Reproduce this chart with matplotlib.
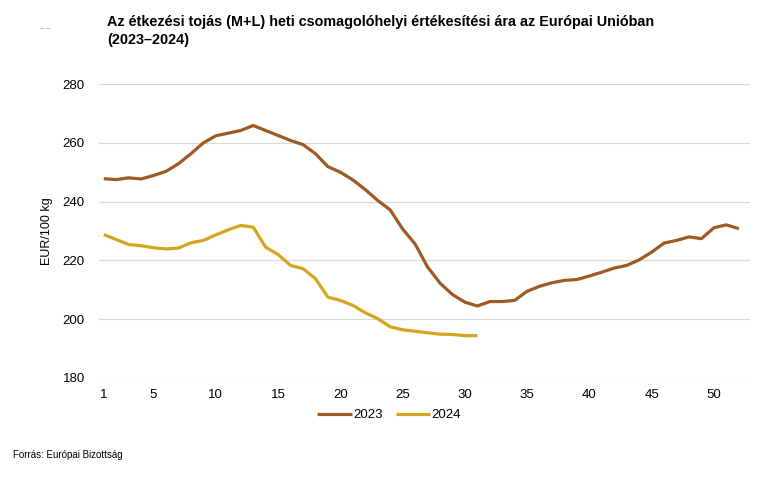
import matplotlib
matplotlib.use("Agg")
import matplotlib.pyplot as plt

plt.rcParams['font.family'] = ['Liberation Sans', 'DejaVu Sans']

# heti árak, EUR/100 kg (leolvasva az ábráról)
weeks_2023 = list(range(1, 53))
price_2023 = [247.8, 247.5, 248.1, 247.7, 248.9, 250.3, 252.9, 256.3, 260.0, 262.4,
              263.3, 264.2, 265.9, 264.2, 262.5, 260.8, 259.4, 256.3, 251.9, 250.0,
              247.4, 244.1, 240.4, 237.2, 230.7, 225.6, 217.8, 212.3, 208.4, 205.8,
              204.5, 206.0, 206.0, 206.4, 209.5, 211.2, 212.4, 213.2, 213.5, 214.7,
              216.0, 217.4, 218.3, 220.2, 222.8, 225.9, 226.8, 228.0, 227.4, 231.1,
              232.1, 230.8]
weeks_2024 = list(range(1, 32))
price_2024 = [228.8, 227.1, 225.4, 225.0, 224.3, 223.9, 224.2, 226.0, 226.8, 228.7,
              230.4, 231.9, 231.3, 224.5, 222.0, 218.3, 217.2, 213.8, 207.5, 206.4,
              204.7, 202.2, 200.2, 197.4, 196.4, 195.9, 195.4, 194.9, 194.8, 194.4,
              194.4]
xticks = [1, 5, 10, 15, 20, 25, 30, 35, 40, 45, 50]
yticks = [180, 200, 220, 240, 260, 280]

c2023 = '#9E5A22'
c2024 = '#D6A51E'

fig = plt.figure(figsize=(7.78, 4.83), dpi=100)
ax = fig.add_axes([0.127, 0.2174, 0.837, 0.6086])

ax.plot(weeks_2023, price_2023, color=c2023, lw=2.3, label='2023', solid_capstyle='butt')
ax.plot(weeks_2024, price_2024, color=c2024, lw=2.3, label='2024', solid_capstyle='butt')

ax.set_xlim(0.6, 52.9)
ax.set_ylim(180, 280)
ax.set_xticks(xticks)
ax.set_yticks(yticks)
ax.grid(axis='y', color='#D9D9D9', lw=0.9)
ax.set_axisbelow(True)
for s in ax.spines.values():
    s.set_visible(False)
ax.tick_params(axis='both', length=0, labelsize=9.5, colors='black')
ax.tick_params(axis='x', pad=8)
ax.tick_params(axis='y', pad=10)
ax.set_ylabel('EUR/100 kg', fontsize=9, labelpad=7)

fig.legend(loc='center', bbox_to_anchor=(0.5, 1 - 415 / 483), ncol=2, frameon=False,
           fontsize=9.5, handlelength=2.6, handletextpad=0.1, columnspacing=1.0)

# kis szürke jel a cím előtt
fig.text(40 / 778, 1 - 29 / 483, '‒ ‒', fontsize=5, color='#808080', va='center')
fig.text(107 / 778, 1 - 31 / 483,
         'Az étkezési tojás (M+L) heti csomagolóhelyi értékesítési ára az Európai Unióban\n(2023–2024)',
         fontsize=10.4, fontweight='bold', va='center', ha='left', linespacing=1.45)
fig.text(13 / 778, 1 - 455 / 483, 'Forrás: Európai Bizottság', fontsize=7, va='center')

fig.savefig('out.png', dpi=100)
